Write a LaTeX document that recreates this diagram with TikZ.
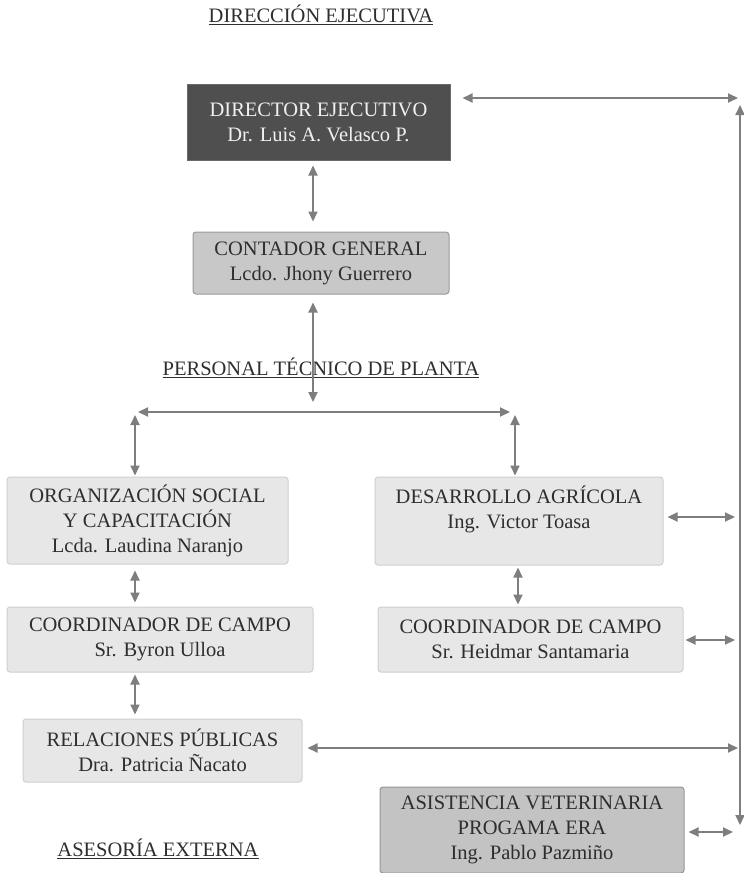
\documentclass[tikz,border=0pt]{standalone}
\usepackage{fontspec}
\setmainfont{Liberation Serif}
\usetikzlibrary{arrows.meta,calc}

\definecolor{inkgray}{HTML}{2E2E2E}
\definecolor{linkgray}{HTML}{7E7E7E}
\definecolor{darkfill}{HTML}{4F4F4F}
\definecolor{darkedge}{HTML}{6A6A6A}
\definecolor{midfill}{HTML}{C8C8C8}
\definecolor{midedge}{HTML}{9A9A9A}
\definecolor{lightfill}{HTML}{E7E7E7}
\definecolor{lightedge}{HTML}{CFCFCF}
\definecolor{vetfill}{HTML}{C3C3C3}
\definecolor{vetedge}{HTML}{959595}

\tikzset{
  orgbox/.style={rectangle, inner sep=0pt, align=center, text=inkgray,
    font=\fontsize{20.5}{25}\selectfont, line width=1pt, rounded corners=3pt},
  headbox/.style={orgbox, fill=darkfill, draw=darkedge, text=white!94!black, rounded corners=0pt},
  midbox/.style={orgbox, fill=midfill, draw=midedge},
  lightbox/.style={orgbox, fill=lightfill, draw=lightedge},
  vetbox/.style={orgbox, fill=vetfill, draw=vetedge},
  sectionlabel/.style={inner sep=0pt, text=inkgray, font=\fontsize{20.5}{24}\selectfont},
  bi/.style={{Triangle[length=10pt,width=9pt]}-{Triangle[length=10pt,width=9pt]},
    draw=linkgray, line width=2pt}
}

\begin{document}
\begin{tikzpicture}[x=1pt, y=-1pt]
  \useasboundingbox (0,0) rectangle (744,873);

  % section headings
  \node[sectionlabel] (hdir) at (321,15) {\underline{DIRECCIÓN EJECUTIVA}};
  \node[sectionlabel] (hpt)  at (321,368) {\underline{PERSONAL TÉCNICO DE PLANTA}};
  \node[sectionlabel] (hext) at (158,849) {\underline{ASESORÍA EXTERNA}};

  % boxes
  \node[headbox, minimum width=263pt, minimum height=76pt] (dir) at (318.5,122)
    {DIRECTOR EJECUTIVO\\Dr. Luis A. Velasco P.};
  \node[midbox, minimum width=256pt, minimum height=62pt] (cont) at (321,263)
    {CONTADOR GENERAL\\Lcdo. Jhony Guerrero};
  \node[lightbox, minimum width=281pt, minimum height=87pt] (org) at (147.5,520.5)
    {ORGANIZACIÓN SOCIAL\\Y CAPACITACIÓN\\Lcda. Laudina Naranjo};
  \node[lightbox, minimum width=306pt, minimum height=65pt] (cl) at (160,639.5)
    {COORDINADOR DE CAMPO\\Sr. Byron Ulloa};
  \node[lightbox, minimum width=279pt, minimum height=63pt] (rel) at (162.5,750.5)
    {RELACIONES PÚBLICAS\\Dra. Patricia Ñacato};
  \node[lightbox, minimum width=288pt, minimum height=88pt] (desa) at (519,521)
    {DESARROLLO AGRÍCOLA\\Ing. Victor Toasa\\[2pt]~};
  \node[lightbox, minimum width=305pt, minimum height=65pt] (cr) at (530.5,639.5)
    {COORDINADOR DE CAMPO\\Sr. Heidmar Santamaria};
  \node[vetbox, minimum width=304pt, minimum height=86pt] (asis) at (532,830)
    {ASISTENCIA VETERINARIA\\PROGAMA ERA\\Ing. Pablo Pazmiño};

  % reference points of the connector network
  \coordinate (spine)  at (313,0);
  \coordinate (branch) at (313,402);
  \coordinate (brL)    at (138,412);
  \coordinate (brR)    at (510,412);
  \coordinate (legL)   at (135,415);
  \coordinate (legR)   at (515,415);
  \coordinate (colL)   at (135,0);
  \coordinate (colR)   at (518,0);
  \coordinate (bus)    at (740,0);
  \coordinate (busN)   at (738,98);
  \coordinate (busTop) at (740,105);
  \coordinate (busBot) at (740,825);

  % central spine
  \draw[bi, shorten <=5pt, shorten >=10pt] (dir.south -| spine) -- (cont.north -| spine);
  \draw[bi, shorten <=8pt] (cont.south -| spine) -- (branch);
  \draw[bi] (brL) -- (brR);
  \draw[bi, shorten >=1pt] (legL) -- (org.north -| legL);
  \draw[bi, shorten >=1pt] (legR) -- (desa.north -| legR);

  % columns
  \draw[bi, shorten <=6pt, shorten >=4pt] (org.south -| colL) -- (cl.north -| colL);
  \draw[bi, shorten <=2pt, shorten >=4pt] (cl.south -| colL) -- (rel.north -| colL);
  \draw[bi, shorten <=2pt, shorten >=2pt] (desa.south -| colR) -- (cr.north -| colR);

  % right-hand bus and its links
  \draw[bi] (busTop) -- (busBot);
  \draw[bi] ($(dir.east)+(12,-24)$) -- (busN);
  \draw[bi] ($(desa.east)+(4,-4)$) -- ($(desa.east -| bus)+(-5,-4)$);
  \draw[bi] ($(cr.east)+(2,0.5)$) -- ($(cr.east -| bus)+(-5,0.5)$);
  \draw[bi] ($(rel.east)+(5,-2.5)$) -- ($(rel.east -| bus)+(-2,-2.5)$);
  \draw[bi] ($(asis.east)+(4,2)$) -- ($(asis.east -| bus)+(-7,2)$);
\end{tikzpicture}
\end{document}
